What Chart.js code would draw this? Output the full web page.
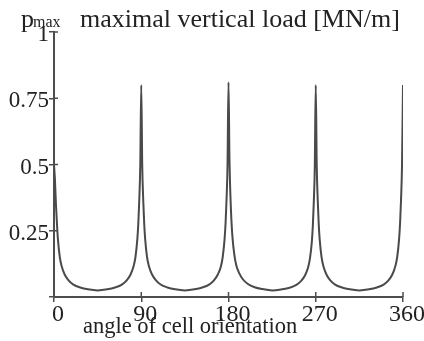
<!DOCTYPE html>
<html>
<head>
<meta charset="utf-8">
<script src="https://cdn.jsdelivr.net/npm/chart.js@4"></script>
<style>
  body { margin: 0; background: #fff; }
  #wrap { width: 424px; height: 341px; position: relative; }
</style>
</head>
<body>
<div id="wrap"><canvas id="LoadChart"></canvas></div>
<script>
// angle of cell orientation [deg]
const angles = [
  0, 1, 2, 3, 4, 6, 8, 11, 15, 20, 27, 35, 45, 55, 63, 70, 75, 79, 82, 84, 86, 87, 88, 89,
  90, 91, 92, 93, 94, 96, 98, 101, 105, 110, 117, 125, 135, 145, 153, 160, 165, 169, 172, 174, 176, 177, 178, 179,
  180, 181, 182, 183, 184, 186, 188, 191, 195, 200, 207, 215, 225, 235, 243, 250, 255, 259, 262, 264, 266, 267, 268, 269,
  270, 271, 272, 273, 274, 276, 278, 281, 285, 290, 297, 305, 315, 325, 333, 340, 345, 349, 352, 354, 356, 357, 358, 359,
  360
]
// maximal vertical load p_max [MN/m]
const pmax = [
  0.50, 0.44, 0.35, 0.28, 0.22, 0.15, 0.115, 0.085, 0.063, 0.047, 0.036, 0.029, 0.025, 0.029, 0.036, 0.047, 0.063, 0.085, 0.115, 0.15, 0.22, 0.28, 0.37, 0.50,
  0.80, 0.50, 0.37, 0.28, 0.22, 0.15, 0.115, 0.086, 0.064, 0.047, 0.036, 0.029, 0.025, 0.029, 0.036, 0.047, 0.063, 0.085, 0.113, 0.15, 0.22, 0.28, 0.37, 0.50,
  0.81, 0.52, 0.38, 0.29, 0.23, 0.16, 0.12, 0.09, 0.066, 0.049, 0.037, 0.030, 0.025, 0.029, 0.035, 0.046, 0.061, 0.082, 0.11, 0.145, 0.21, 0.27, 0.36, 0.49,
  0.80, 0.50, 0.37, 0.28, 0.22, 0.15, 0.115, 0.085, 0.063, 0.047, 0.036, 0.029, 0.025, 0.029, 0.036, 0.047, 0.063, 0.085, 0.115, 0.15, 0.22, 0.28, 0.37, 0.50,
  0.80
]
const xTicks = [0, 90, 180, 270, 360]
const yTicks = [0, 0.25, 0.5, 0.75, 1]

const INK = '#222'
const AXIS = '#4d4d4d'
const SERIF = '"Liberation Serif", "Times New Roman", serif'

// inner half of the crossing tick marks + the texts around the plot
const extras = {
  id: 'extras',
  afterDraw(chart) {
    const ctx = chart.ctx
    const xs = chart.scales.x, ys = chart.scales.y
    const area = chart.chartArea
    ctx.save()
    ctx.strokeStyle = AXIS
    ctx.lineWidth = 1.5
    ctx.beginPath()
    yTicks.forEach(v => {
      if (v == 0) return
      const py = ys.getPixelForValue(v)
      ctx.moveTo(area.left, py)
      ctx.lineTo(area.left + 4, py)
    })
    xTicks.forEach(v => {
      if (v == 0) return
      const px = xs.getPixelForValue(v)
      ctx.moveTo(px, area.bottom)
      ctx.lineTo(px, area.bottom - 5)
    })
    ctx.stroke()

    ctx.fillStyle = INK
    ctx.textBaseline = 'alphabetic'
    ctx.textAlign = 'left'
    ctx.font = '26px ' + SERIF
    ctx.fillText('p', 21, 27)
    ctx.font = '16px ' + SERIF
    ctx.fillText('max', 33, 27)
    ctx.font = '26px ' + SERIF
    ctx.fillText('maximal vertical load [MN/m]', 80, 27)
    ctx.font = '22.5px ' + SERIF
    ctx.fillText('angle of cell orientation', 83, 333)
    ctx.restore()
  }
}

new Chart('LoadChart', {
  type: 'line',
  data: {
    datasets: [{
      data: angles.map((a, i) => ({x: a, y: pmax[i]})),
      borderColor: '#4a4a4a',
      borderWidth: 2,
      pointRadius: 0,
      cubicInterpolationMode: 'monotone',
      fill: false
    }]
  },
  options: {
    responsive: true,
    maintainAspectRatio: false,
    animation: false,
    layout: { padding: { top: 32, right: 21, left: 0, bottom: 0 } },
    plugins: { legend: { display: false }, tooltip: { enabled: false }, title: { display: false } },
    scales: {
      x: {
        type: 'linear', min: 0, max: 360,
        afterBuildTicks: s => { s.ticks = xTicks.map(v => ({value: v})) },
        afterFit: s => { s.height = 44 },
        border: { display: true, color: AXIS, width: 2 },
        grid: { drawOnChartArea: false, drawTicks: true, tickLength: 5, color: AXIS, lineWidth: 1.5 },
        ticks: { font: { family: SERIF, size: 24 }, color: INK, padding: -2, maxRotation: 0, labelOffset: 4 }
      },
      y: {
        type: 'linear', min: 0, max: 1,
        afterBuildTicks: s => { s.ticks = yTicks.map(v => ({value: v})) },
        afterFit: s => { s.width = 54 },
        border: { display: true, color: AXIS, width: 2 },
        grid: { drawOnChartArea: false, drawTicks: true, tickLength: 5, color: AXIS, lineWidth: 1.5 },
        ticks: {
          font: { family: SERIF, size: 23 }, color: INK, padding: 0, labelOffset: 3,
          callback: v => v == 0 ? '' : String(v)
        }
      }
    }
  },
  plugins: [extras]
})
</script>
</body>
</html>
